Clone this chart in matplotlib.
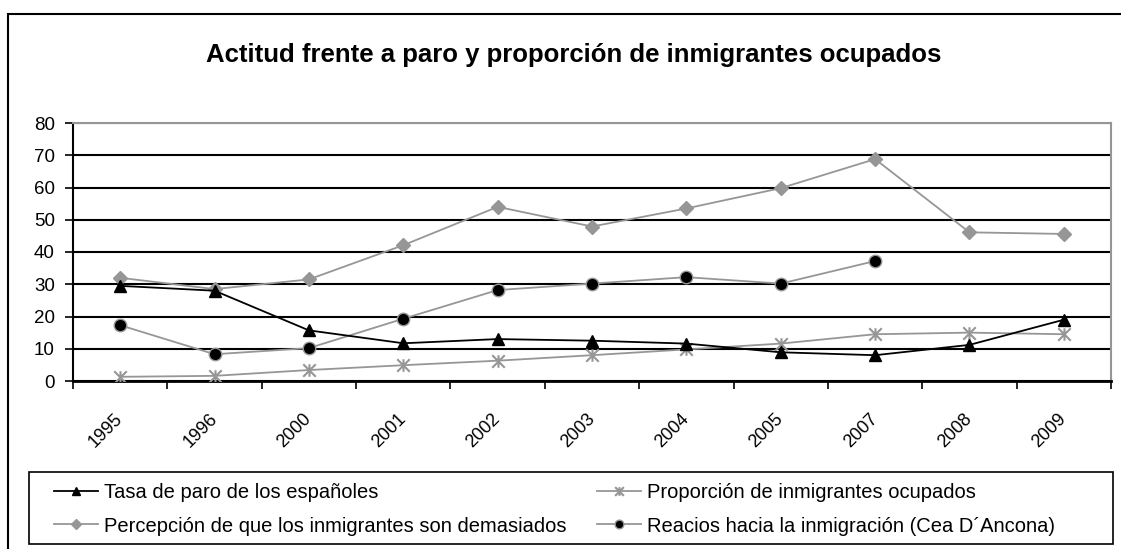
import numpy as np
import matplotlib.pyplot as plt
from matplotlib.patches import Rectangle
from matplotlib.path import Path
from matplotlib.transforms import ScaledTranslation

plt.rcParams['font.family'] = ['Liberation Sans', 'DejaVu Sans']

years = ['1995', '1996', '2000', '2001', '2002', '2003', '2004', '2005', '2007', '2008', '2009']
tasa_paro = [29.5, 28.0, 15.7, 11.7, 13.0, 12.5, 11.6, 8.9, 8.0, 11.2, 19.0]
prop_ocupados = [1.3, 1.6, 3.4, 4.9, 6.3, 8.0, 9.8, 11.6, 14.5, 15.0, 14.5]
percepcion = [32.0, 28.5, 31.5, 42.1, 54.0, 47.9, 53.5, 59.8, 68.8, 46.1, 45.6]
reacios = [17.3, 8.3, 10.2, 19.3, 28.2, 30.2, 32.2, 30.2, 37.2, np.nan, np.nan]

gray = '#969696'

# Excel-style star: an X with a vertical bar
star = Path([(-1, -1), (1, 1), (-1, 1), (1, -1), (0, -1), (0, 1)],
            [Path.MOVETO, Path.LINETO, Path.MOVETO, Path.LINETO, Path.MOVETO, Path.LINETO])

fig = plt.figure(figsize=(11.21, 5.49), dpi=100)
ax = fig.add_axes([73 / 1121, 1 - 381 / 549, (1111 - 73) / 1121, (381 - 123) / 549])

x = np.arange(len(years))
l1, = ax.plot(x, tasa_paro, color='black', lw=1.3, marker='^', ms=9,
              mfc='black', mec='black', label='Tasa de paro de los españoles', zorder=5)
l2, = ax.plot(x, prop_ocupados, color=gray, lw=1.3, marker=star, ms=9, mew=1.5,
              mfc=gray, mec=gray, label='Proporción de inmigrantes ocupados', zorder=4)
l3, = ax.plot(x, percepcion, color=gray, lw=1.3, marker='D', ms=7,
              mfc=gray, mec=gray, label='Percepción de que los inmigrantes son demasiados', zorder=4)
l4, = ax.plot(x, reacios, color=gray, lw=1.3, marker='o', ms=9,
              mfc='black', mec=gray, mew=1, label='Reacios hacia la inmigración (Cea D´Ancona)', zorder=4)

ax.set_xlim(-0.5, len(years) - 0.5)
ax.set_ylim(0, 80)
ax.set_yticks(range(0, 81, 10))
ax.yaxis.grid(True, color='black', lw=1.5)
ax.set_axisbelow(True)

ax.set_xticks(x)
ax.set_xticklabels(years, rotation=45, ha='right', va='top', rotation_mode='anchor', fontsize=13)
ax.set_xticks(np.arange(-0.5, len(years)), minor=True)
ax.tick_params(axis='x', which='major', length=0, pad=21)
ax.tick_params(axis='x', which='minor', length=6, width=1.2, direction='out')
ax.tick_params(axis='y', length=6, width=1.2, labelsize=13.5, pad=7)
shift = ScaledTranslation(-0.06, 0, fig.dpi_scale_trans)
for lab in ax.get_xticklabels():
    lab.set_transform(lab.get_transform() + shift)

ax.spines['left'].set_linewidth(1.5)
ax.spines['bottom'].set_linewidth(2)
ax.spines['top'].set_color(gray)
ax.spines['top'].set_linewidth(1.5)
ax.spines['right'].set_color(gray)
ax.spines['right'].set_linewidth(1.5)

fig.text(574 / 1121, 1 - 55 / 549, 'Actitud frente a paro y proporción de inmigrantes ocupados',
         ha='center', va='center', fontsize=18.5, fontweight='bold')

# outer chart border
fig.add_artist(Rectangle((8 / 1121, -0.2), 1.5, 1 - 14 / 549 + 0.2, transform=fig.transFigure,
                         fill=False, edgecolor='black', lw=1.5))

# legend frame and two legend columns
fig.add_artist(Rectangle((29 / 1121, 1 - 544 / 549), (1113 - 29) / 1121, (544 - 472) / 549,
                         transform=fig.transFigure, fill=False, edgecolor='black', lw=1.2))
leg_opts = dict(loc='upper left', frameon=False, borderpad=0, borderaxespad=0, fontsize=14.5,
                handlelength=2.2, handletextpad=0.26, labelspacing=0.72, markerscale=0.7)
fig.legend([l1, l3], [l1.get_label(), l3.get_label()],
           bbox_to_anchor=(54 / 1121, 1 - 483 / 549), **leg_opts)
fig.legend([l2, l4], [l2.get_label(), l4.get_label()],
           bbox_to_anchor=(597 / 1121, 1 - 483 / 549), **leg_opts)

fig.savefig('out.png', dpi=100)
